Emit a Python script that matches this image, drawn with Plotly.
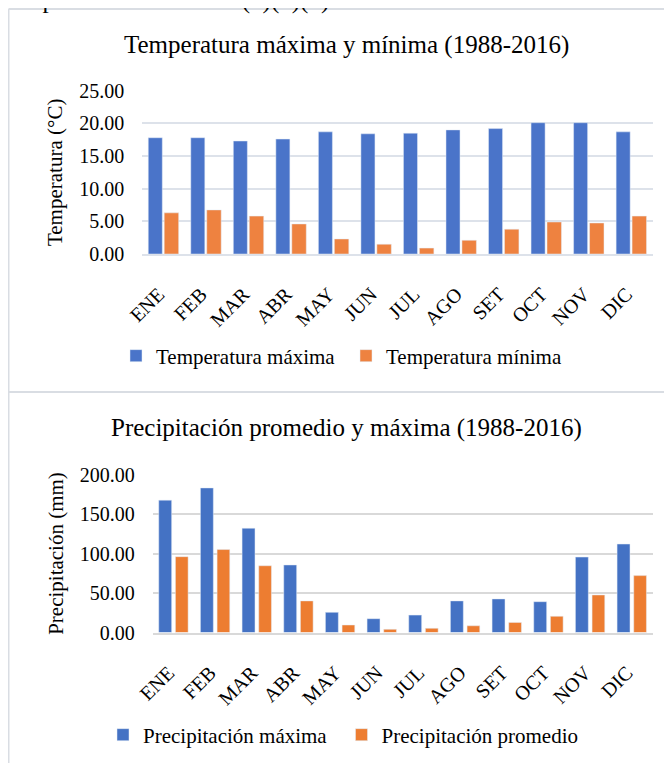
import plotly.graph_objects as go

# the page places the figure 8px in from the top-left corner (body margin)
OFF = 8
W, H = 664, 755

meses = ["ENE", "FEB", "MAR", "ABR", "MAY", "JUN", "JUL", "AGO", "SET", "OCT", "NOV", "DIC"]
temp_max = [17.8, 17.8, 17.3, 17.6, 18.7, 18.4, 18.5, 19.0, 19.2, 20.1, 20.1, 18.7]
temp_min = [6.3, 6.75, 5.8, 4.6, 2.3, 1.5, 0.9, 2.1, 3.8, 4.9, 4.75, 5.8]
prec_max = [167.5, 183.0, 132.0, 85.5, 25.5, 17.5, 22.0, 40.0, 42.5, 39.0, 95.5, 112.0]
prec_prom = [96.0, 105.0, 84.5, 40.0, 9.5, 4.0, 5.3, 8.5, 12.8, 20.5, 47.5, 72.0]
temp_ticks = [0, 5, 10, 15, 20, 25]
prec_ticks = [0, 50, 100, 150, 200]

FONT = "Liberation Serif, Times New Roman, serif"


def sx(x):
    """screen pixel x -> paper fraction"""
    return (x - OFF) / W


def sy(y):
    """screen pixel y (from top) -> paper fraction"""
    return (H - (y - OFF)) / H


fig = go.Figure()

fig.add_trace(go.Bar(x=meses, y=temp_max, name="Temperatura máxima", marker_color="#4A74C9",
                     offset=-0.36, width=0.33, xaxis="x", yaxis="y", legend="legend"))
fig.add_trace(go.Bar(x=meses, y=temp_min, name="Temperatura mínima", marker_color="#EE8240",
                     offset=0.015, width=0.34, xaxis="x", yaxis="y", legend="legend2"))
fig.add_trace(go.Bar(x=meses, y=prec_max, name="Precipitación máxima", marker_color="#4472C4",
                     offset=-0.355, width=0.31, xaxis="x2", yaxis="y2", legend="legend3"))
fig.add_trace(go.Bar(x=meses, y=prec_prom, name="Precipitación promedio", marker_color="#ED7D31",
                     offset=0.045, width=0.305, xaxis="x2", yaxis="y2", legend="legend4"))

xcommon = dict(type="category", showgrid=False, zeroline=False, showline=True, linewidth=1.5,
               tickangle=-45, tickfont=dict(size=20, color="#000", family=FONT), ticks="",
               ticklabelstandoff=19, ticklabelshift=-5, fixedrange=True, automargin=False)
ycommon = dict(showgrid=True, gridwidth=1.5, zeroline=False, showline=False, ticks="",
               tickformat=".2f", tickfont=dict(size=20, color="#000", family=FONT),
               title_font=dict(size=21, color="#000", family=FONT), automargin=False,
               fixedrange=True)
legcommon = dict(orientation="h", xanchor="left", yanchor="middle",
                 font=dict(size=21, color="#000", family=FONT), bgcolor="rgba(0,0,0,0)")

fig.update_layout(
    width=W, height=H, autosize=False,
    margin=dict(l=0, r=0, t=0, b=0),
    paper_bgcolor="white", plot_bgcolor="white",
    barmode="overlay",
    font=dict(family=FONT, color="#000"),
    xaxis=dict(domain=[sx(142.3), sx(652.7)], anchor="y", linecolor="#DDE2EA", **xcommon),
    yaxis=dict(domain=[sy(254), sy(90.7)], anchor="x", range=[0, 25], tickvals=temp_ticks,
               gridcolor="#DDE2EA", ticklabelstandoff=17,
               title=dict(text="Temperatura (°C)", standoff=10), **ycommon),
    xaxis2=dict(domain=[sx(152.7), sx(652.7)], anchor="y2", linecolor="#D9D9D9", **xcommon),
    yaxis2=dict(domain=[sy(632.5), sy(474.5)], anchor="x2", range=[0, 200], tickvals=prec_ticks,
                gridcolor="#D9D9D9", ticklabelstandoff=17,
                title=dict(text="Precipitación (mm)", standoff=10), **ycommon),
    legend=dict(x=sx(116), y=sy(356), **legcommon),
    legend2=dict(x=sx(346), y=sy(356), **legcommon),
    legend3=dict(x=sx(103), y=sy(735), **legcommon),
    legend4=dict(x=sx(341.5), y=sy(735), **legcommon),
    showlegend=True,
)

fig.add_annotation(text="empleo las ecuaciones (1)(2)(3).", xref="paper", yref="paper",
                   x=sx(10), y=sy(16), xanchor="left", yanchor="bottom", showarrow=False,
                   font=dict(size=25, color="#000", family=FONT))
fig.add_annotation(text="Temperatura máxima y mínima (1988-2016)", xref="paper", yref="paper",
                   x=sx(346), y=sy(45), xanchor="center", yanchor="middle", showarrow=False,
                   font=dict(size=25, color="#000", family=FONT))
fig.add_annotation(text="Precipitación promedio y máxima (1988-2016)", xref="paper", yref="paper",
                   x=sx(346.5), y=sy(428), xanchor="center", yanchor="middle", showarrow=False,
                   font=dict(size=25, color="#000", family=FONT))

border = dict(color="#D9DDE3", width=2)
fig.add_shape(type="line", xref="paper", yref="paper", x0=sx(8.5), x1=1, y0=sy(9), y1=sy(9), line=border)
fig.add_shape(type="line", xref="paper", yref="paper", x0=sx(8.5), x1=sx(8.5), y0=sy(9), y1=0, line=border)
fig.add_shape(type="line", xref="paper", yref="paper", x0=sx(8.5), x1=1, y0=sy(392), y1=sy(392), line=border)

fig.write_html("out.html", config={"responsive": False})
